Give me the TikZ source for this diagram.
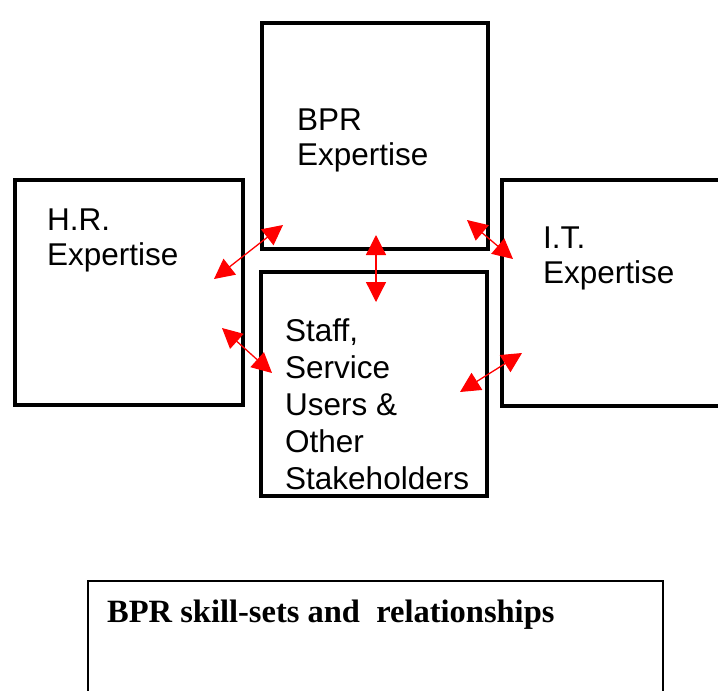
\documentclass[tikz,border=0pt]{standalone}
\usepackage{fontspec}
\setmainfont{Liberation Sans}
\newfontfamily\captionfont{Liberation Serif}
\usetikzlibrary{arrows.meta}

\begin{document}
\begin{tikzpicture}[x=1pt,y=-1pt,
        skill box/.style={draw=black,line width=3.5pt,inner sep=0pt},
        skill text/.style={anchor=north west,align=left,inner sep=0pt,
            font=\fontsize{31.5}{35}\selectfont},
        link/.style={draw=red,line width=1.3pt,
            {Triangle[length=20pt,width=20pt]}-{Triangle[length=20pt,width=20pt]}}]

    \useasboundingbox (0,0) rectangle (718,691);
    \clip (0,0) rectangle (718,691);

    % the four skill boxes
    \node[skill box, minimum width=226pt, minimum height=226pt] (BPR) at (375,136) {};
    \node[skill box, minimum width=226pt, minimum height=224pt] (Staff) at (374,384) {};
    \node[skill box, minimum width=228pt, minimum height=225pt] (HR) at (129,292.5) {};
    \node[skill box, minimum width=238pt, minimum height=226pt] (IT) at (621,293) {};

    \node[skill text] (BPRtext) at (297,109) {BPR\\Expertise};
    \node[skill text] (HRtext) at (47,209) {H.R.\\Expertise};
    \node[skill text] (ITtext) at (543,227) {I.T.\\Expertise};
    \node[skill text, font=\fontsize{31.5}{37}\selectfont] (Stafftext) at (285,318)
        {Staff,\\Service\\Users \&\\Other\\Stakeholders};

    % caption box
    \node[draw=black, line width=1.5pt, minimum width=575pt, minimum height=139pt] (Caption) at (375.5,650.5) {};
    \node[anchor=base west, inner sep=0pt, font=\captionfont\bfseries\fontsize{32.5}{34}\selectfont] (Captiontext) at (107,622)
        {BPR skill-sets and\ \ relationships};

    % arrow ends
    \coordinate (hb1) at (214,279);
    \coordinate (hb2) at (283,225);
    \coordinate (hs1) at (222,328);
    \coordinate (hs2) at (272,373);
    \coordinate (bi1) at (467,220);
    \coordinate (bi2) at (513,259);
    \coordinate (si1) at (460,392);
    \coordinate (si2) at (522,353);
    \coordinate (bs1) at (376,235);
    \coordinate (bs2) at (376,302);

    \path
    (hb1) edge[link] (hb2)
    (hs1) edge[link] (hs2)
    (bi1) edge[link] (bi2)
    (si1) edge[link] (si2)
    (bs1) edge[link] (bs2);

\end{tikzpicture}
\end{document}
